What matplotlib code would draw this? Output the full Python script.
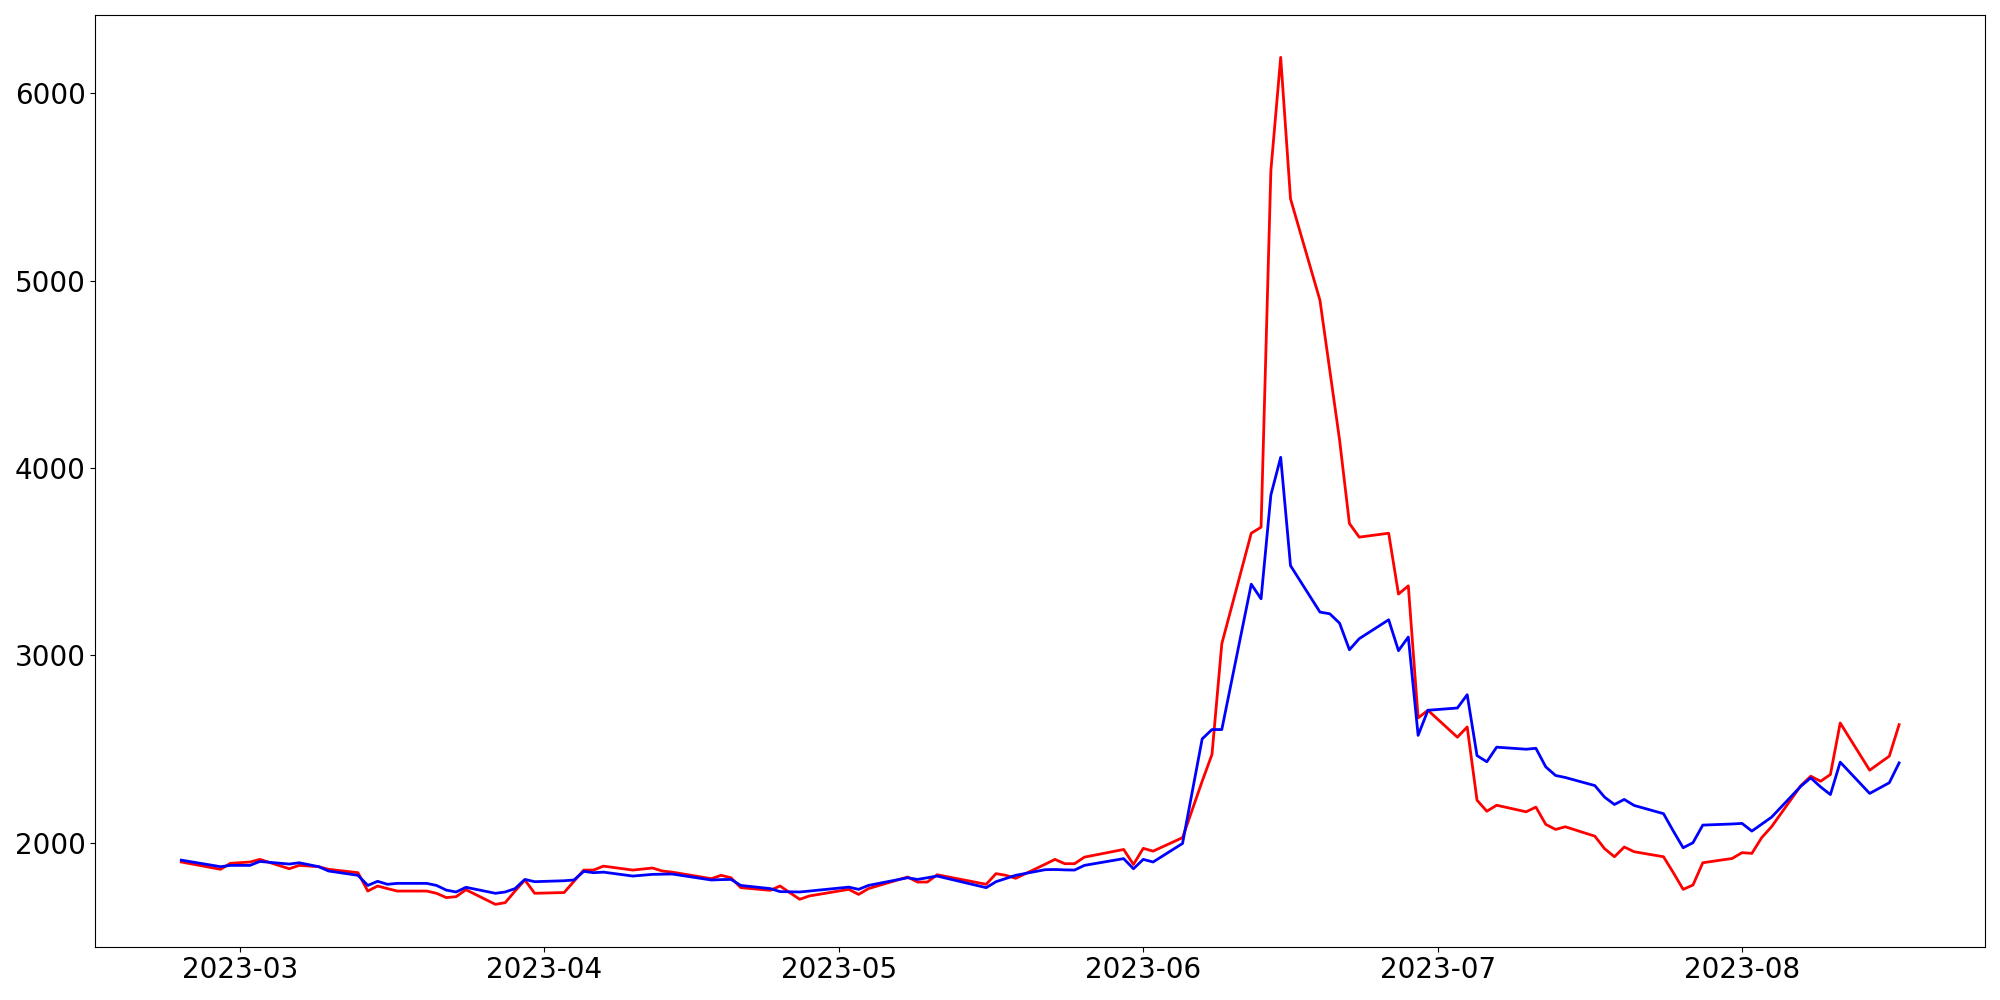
import matplotlib
matplotlib.use("Agg")
import matplotlib.pyplot as plt
import pandas as pd

# trading days (weekends / a few quiet days absent)
dates = [
    "2023-02-23", "2023-02-27", "2023-02-28", "2023-03-02", "2023-03-03",
    "2023-03-06", "2023-03-07", "2023-03-09", "2023-03-10", "2023-03-13",
    "2023-03-14", "2023-03-15", "2023-03-16", "2023-03-17", "2023-03-20",
    "2023-03-21", "2023-03-22", "2023-03-23", "2023-03-24", "2023-03-27",
    "2023-03-28", "2023-03-29", "2023-03-30", "2023-03-31", "2023-04-03",
    "2023-04-04", "2023-04-05", "2023-04-06", "2023-04-07", "2023-04-10",
    "2023-04-12", "2023-04-13", "2023-04-14", "2023-04-18", "2023-04-19",
    "2023-04-20", "2023-04-21", "2023-04-24", "2023-04-25", "2023-04-26",
    "2023-04-27", "2023-04-28", "2023-05-02", "2023-05-03", "2023-05-04",
    "2023-05-08", "2023-05-09", "2023-05-10", "2023-05-11", "2023-05-16",
    "2023-05-17", "2023-05-18", "2023-05-19", "2023-05-22", "2023-05-23",
    "2023-05-24", "2023-05-25", "2023-05-26", "2023-05-30", "2023-05-31",
    "2023-06-01", "2023-06-02", "2023-06-05", "2023-06-07", "2023-06-08",
    "2023-06-09", "2023-06-12", "2023-06-13", "2023-06-14", "2023-06-15",
    "2023-06-16", "2023-06-19", "2023-06-20", "2023-06-21", "2023-06-22",
    "2023-06-23", "2023-06-26", "2023-06-27", "2023-06-28", "2023-06-29",
    "2023-06-30", "2023-07-03", "2023-07-04", "2023-07-05", "2023-07-06",
    "2023-07-07", "2023-07-10", "2023-07-11", "2023-07-12", "2023-07-13",
    "2023-07-14", "2023-07-17", "2023-07-18", "2023-07-19", "2023-07-20",
    "2023-07-21", "2023-07-24", "2023-07-25", "2023-07-26", "2023-07-27",
    "2023-07-28", "2023-07-31", "2023-08-01", "2023-08-02", "2023-08-03",
    "2023-08-04", "2023-08-07", "2023-08-08", "2023-08-09", "2023-08-10",
    "2023-08-11", "2023-08-14", "2023-08-16", "2023-08-17",
]

red_vals = [
    1897, 1858, 1890, 1897, 1911,
    1861, 1879, 1872, 1858, 1840,
    1742, 1769, 1755, 1742, 1742,
    1730, 1707, 1712, 1749, 1671,
    1680, 1742, 1801, 1730, 1734,
    1794, 1854, 1854, 1875, 1854,
    1865, 1849, 1843, 1808, 1826,
    1813, 1760, 1746, 1769, 1733,
    1698, 1716, 1751, 1724, 1755,
    1817, 1790, 1790, 1829, 1778,
    1835, 1826, 1810, 1885, 1911,
    1888, 1888, 1923, 1964, 1884,
    1970, 1955, 2027, 2328, 2471,
    3062, 3652, 3684, 5588, 6192,
    5437, 4895, 4522, 4149, 3704,
    3631, 3652, 3327, 3371, 2666,
    2707, 2563, 2618, 2227, 2168,
    2200, 2165, 2190, 2098, 2071,
    2085, 2035, 1968, 1925, 1977,
    1952, 1925, 1840, 1751, 1774,
    1893, 1916, 1947, 1943, 2027,
    2085, 2305, 2355, 2328, 2364,
    2639, 2387, 2462, 2630,
]

blue_vals = [
    1907, 1872, 1879, 1879, 1900,
    1886, 1893, 1872, 1849, 1826,
    1772, 1794, 1778, 1783, 1783,
    1772, 1747, 1737, 1762, 1730,
    1737, 1755, 1804, 1792, 1797,
    1801, 1847, 1840, 1843, 1822,
    1831, 1832, 1833, 1801, 1803,
    1804, 1772, 1755, 1739, 1738,
    1737, 1742, 1763, 1751, 1772,
    1813, 1804, 1813, 1822, 1760,
    1792, 1809, 1826, 1856, 1857,
    1855, 1854, 1879, 1915, 1861,
    1911, 1897, 1996, 2554, 2604,
    2604, 3380, 3302, 3856, 4057,
    3479, 3231, 3222, 3172, 3030,
    3089, 3190, 3025, 3098, 2573,
    2707, 2719, 2790, 2465, 2432,
    2510, 2499, 2504, 2405, 2359,
    2348, 2305, 2243, 2204, 2231,
    2199, 2155, 2062, 1973, 2000,
    2094, 2100, 2103, 2062, 2099,
    2136, 2302, 2346, 2298, 2257,
    2430, 2263, 2320, 2426,
]

x = pd.to_datetime(dates)

fig, ax = plt.subplots(figsize=(20, 10), dpi=100)
ax.plot(x, red_vals, color="red", linewidth=2)
ax.plot(x, blue_vals, color="blue", linewidth=2)

ax.tick_params(axis="both", labelsize=20)

plt.subplots_adjust(left=0.0477, right=0.9925, top=0.985, bottom=0.0533)
plt.savefig("out.png")
